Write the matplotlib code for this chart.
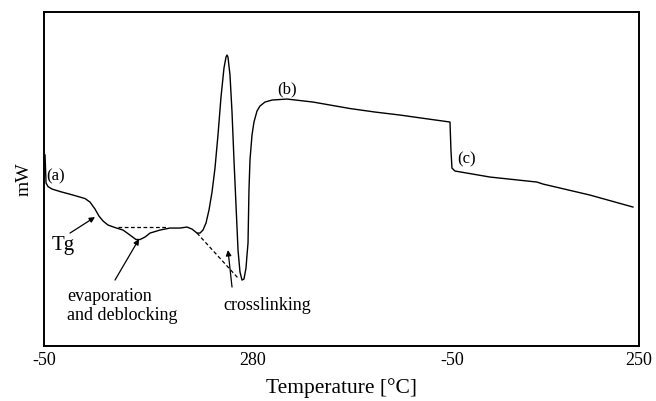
import matplotlib
matplotlib.use("Agg")
import matplotlib.pyplot as plt

plt.rcParams['font.family'] = ['Liberation Serif', 'DejaVu Serif']

# Program position (0-100 across the temperature program) and heat flow (arb. mW)
t_heat1 = [0.17, 0.34, 0.67, 1.34, 2.69, 4.87, 6.89, 7.73, 8.57, 9.24, 9.92, 10.76, 11.93,
           13.28, 14.45, 15.46, 16.13, 16.97, 17.82, 19.50, 21.18, 22.86, 24.03, 24.87, 25.71,
           26.22, 26.72, 27.23, 27.73, 28.24, 28.74, 29.24, 29.75, 30.25, 30.59, 30.76, 30.92,
           31.26, 31.60, 31.93, 32.27, 32.61, 32.94, 33.28, 33.61, 33.95, 34.12, 34.29]
mw_heat1 = [57.19, 48.80, 47.75, 47.01, 46.26, 45.21, 44.16, 43.11, 41.02, 38.92, 37.43, 36.23,
            35.48, 34.73, 33.23, 31.89, 31.89, 32.63, 33.83, 34.73, 35.33, 35.33, 35.63, 35.03,
            33.83, 33.83, 34.73, 36.83, 40.72, 46.11, 53.29, 63.17, 74.55, 83.23, 86.53, 87.13,
            86.53, 81.14, 70.06, 55.69, 42.22, 28.74, 22.16, 19.76, 20.06, 23.35, 27.25, 30.84]

t_cool = [34.29, 34.45, 34.62, 34.96, 35.29, 35.80, 36.30, 37.14, 38.32, 40.84, 43.03, 45.21,
          48.07, 51.43, 55.63, 59.83, 64.03, 68.24]
mw_cool = [30.84, 46.71, 55.69, 63.17, 67.07, 70.36, 71.86, 73.05, 73.65, 73.95, 73.50, 73.05,
           72.16, 71.11, 70.06, 69.16, 68.11, 67.07]

t_heat2 = [68.24, 68.40, 68.57, 69.08, 74.96, 82.86, 83.87, 91.76, 98.99]
mw_heat2 = [67.07, 58.68, 53.29, 52.40, 50.60, 49.10, 48.50, 45.21, 41.62]

# Baseline constructions (dashed)
base_evap_t = [12.44, 20.67]
base_evap_mw = [35.63, 35.63]
base_cross_t = [25.71, 32.61]
base_cross_mw = [33.83, 20.36]

tick_pos = [0, 35.1, 68.6, 100]
tick_labels = ['-50', '280', '-50', '250']

fig = plt.figure(figsize=(6.56, 4.01), dpi=100)
ax = fig.add_axes([0.0671, 0.137, 0.9069, 0.833])

ax.plot(t_heat1 + t_cool[1:] + t_heat2[1:], mw_heat1 + mw_cool[1:] + mw_heat2[1:],
        color='black', lw=1.0)
ax.plot(base_evap_t, base_evap_mw, color='black', lw=0.9, ls=(0, (3, 2)))
ax.plot(base_cross_t, base_cross_mw, color='black', lw=0.9, ls=(0, (3, 2)))

arrow_kw = dict(arrowstyle='-|>', color='black', lw=0.9, mutation_scale=8, shrinkA=0, shrinkB=0)
ax.annotate('', xy=(8.57, 38.62), xytext=(4.37, 33.83), arrowprops=arrow_kw)
ax.annotate('', xy=(15.97, 32.04), xytext=(11.93, 19.76), arrowprops=arrow_kw)
ax.annotate('', xy=(30.92, 28.74), xytext=(31.60, 17.66), arrowprops=arrow_kw)

ax.text(2.02, 50.9, '(a)', fontsize=12, ha='center', va='center')
ax.text(40.84, 76.95, '(b)', fontsize=12, ha='center', va='center')
ax.text(71.09, 55.99, '(c)', fontsize=12, ha='center', va='center')
ax.text(3.19, 30.24, 'Tg', fontsize=15, ha='center', va='center')
ax.text(3.87, 12.0, 'evaporation\nand deblocking', fontsize=13, ha='left', va='center',
        linespacing=1.2)
ax.text(37.48, 12.28, 'crosslinking', fontsize=13, ha='center', va='center')

ax.set_xlim(0, 100)
ax.set_ylim(0, 100)
ax.set_xticks(tick_pos)
ax.set_xticklabels(tick_labels, fontsize=13)
ax.set_yticks([])
ax.tick_params(axis='x', length=0, pad=4)
for s in ax.spines.values():
    s.set_linewidth(1.4)
ax.set_xlabel('Temperature [°C]', fontsize=15.5, labelpad=7)
ax.set_ylabel('mW', fontsize=14, labelpad=8)

fig.savefig('out.png', dpi=100)
